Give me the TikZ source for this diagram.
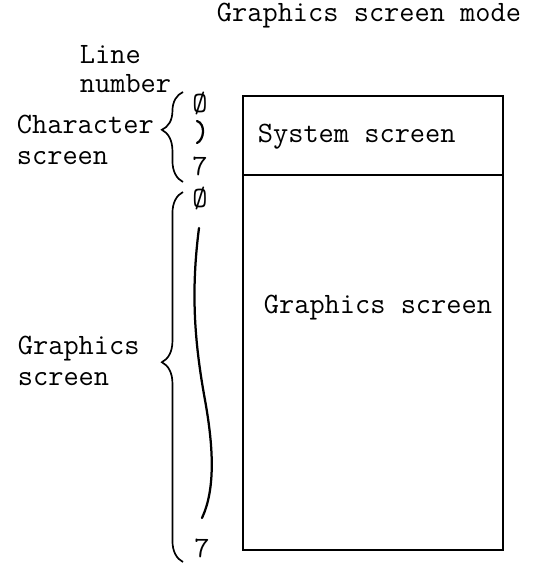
\documentclass[tikz,border=0pt]{standalone}
\usepackage{fontspec}
\usetikzlibrary{decorations.pathreplacing}

\tikzset{
	txt/.style={inner sep=0pt, font=\ttfamily\fontsize{21}{24}\selectfont},
	lbrace/.style={decorate, decoration={brace, amplitude=15, aspect=#1}, line width=1.2pt},
	wave/.style={line width=1.6pt, line cap=round},
}

\begin{document}
\begin{tikzpicture}[x=0.025cm, y=-0.025cm, line width=1.3pt]
	\useasboundingbox (0,0) rectangle (539,573);
	% title
	\node[txt, anchor=base] (mode) at (369,21) {Graphics screen mode};
	% the screen
	\draw (243,96) rectangle (503,550);
	\draw (243,175) -- (503,175);
	\node[txt, anchor=base west] (sys) at (257,142) {System screen};
	\node[txt, anchor=base west] (gfx) at (263,313) {Graphics screen};
	% left labels
	\node[txt, anchor=base west] (line) at (79,63) {Line};
	\node[txt, anchor=base west] (number) at (79,92) {number};
	\node[txt, anchor=base west] (chr) at (16,133) {Character};
	\node[txt, anchor=base west] (chrscr) at (16,164) {screen};
	\node[txt, anchor=base west] (gra) at (17,354) {Graphics};
	\node[txt, anchor=base west] (grascr) at (17,385) {screen};
	% line numbers
	\node[txt, anchor=base] (c0) at (200,112) {Ø};
	\node[txt, anchor=base] (c7) at (200,175) {7};
	\node[txt, anchor=base] (g0) at (200,207) {Ø};
	\node[txt, anchor=base] (g7) at (202,557) {7};
	\draw[wave] (197,121) .. controls (206,124) and (204,140) .. (197,143);
	\draw[wave] (199,228) .. controls (191,290) and (194,340) .. (205,400)
		.. controls (214,450) and (215,490) .. (202,518);
	% braces
	\coordinate (cbot) at (183,182);
	\coordinate (ctop) at (183,92);
	\coordinate (gbot) at (183,562);
	\coordinate (gtop) at (183,192);
	\draw[lbrace=0.58] (cbot) -- (ctop);
	\draw[lbrace=0.54] (gbot) -- (gtop);
\end{tikzpicture}
\end{document}
